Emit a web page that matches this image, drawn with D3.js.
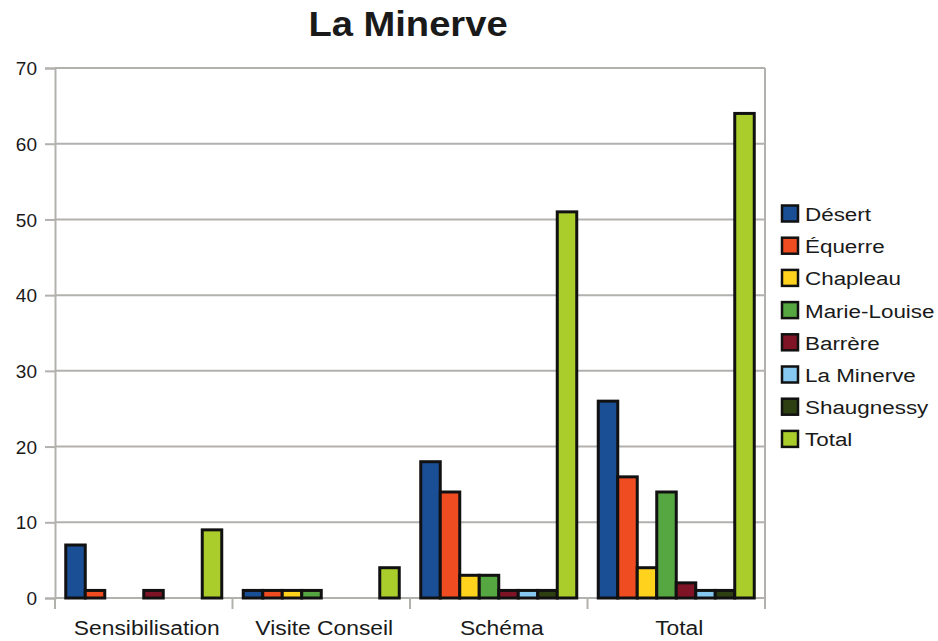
<!DOCTYPE html>
<html>
<head>
<meta charset="utf-8">
<script src="https://cdn.jsdelivr.net/npm/d3@7"></script>
<style>
  html, body { margin: 0; padding: 0; background: #ffffff; }
  svg { display: block; }
  text { font-family: "Liberation Sans", Arial, sans-serif; fill: #1a1a1a; }
</style>
</head>
<body>
<svg id="chart" width="938" height="641"></svg>
<script>
// Activity categories along the x axis
const categories = ["Sensibilisation", "Visite Conseil", "Schéma", "Total"];

// One series per sector; values in category order
const seriesNames = ["Désert", "Équerre", "Chapleau", "Marie-Louise", "Barrère", "La Minerve", "Shaugnessy", "Total"];
const desert      = [7, 1, 18, 26];
const equerre     = [1, 1, 14, 16];
const chapleau    = [0, 1, 3, 4];
const marieLouise = [0, 1, 3, 14];
const barrere     = [1, 0, 1, 2];
const laMinerve   = [0, 0, 1, 1];
const shaugnessy  = [0, 0, 1, 1];
const total       = [9, 4, 51, 64];

const seriesValues = [desert, equerre, chapleau, marieLouise, barrere, laMinerve, shaugnessy, total];
const seriesColors = ["#1b4f95", "#f04c22", "#ffd21e", "#56a641", "#7e1426", "#86c8ef", "#2e3f12", "#abcd2c"];

const yTicks = [0, 10, 20, 30, 40, 50, 60, 70];

const svg = d3.select("#chart");
const plot = { left: 55, right: 765, top: 68, bottom: 598 };

const x = d3.scaleBand().domain(categories).range([plot.left, plot.right]).padding(0);
const groupPad = 10.75;
const xs = d3.scaleBand().domain(seriesNames).range([groupPad, x.bandwidth() - groupPad]).padding(0);
const y = d3.scaleLinear().domain([0, 70]).range([plot.bottom, plot.top]);

const gridColor = "#b3b1ae";

// Horizontal grid lines
svg.append("g")
  .selectAll("line")
  .data(yTicks)
  .join("line")
  .attr("x1", plot.left).attr("x2", plot.right)
  .attr("y1", d => y(d)).attr("y2", d => y(d))
  .attr("stroke", gridColor).attr("stroke-width", 2);

// Right edge of the plot frame
svg.append("line")
  .attr("x1", plot.right).attr("x2", plot.right)
  .attr("y1", plot.top).attr("y2", plot.bottom)
  .attr("stroke", gridColor).attr("stroke-width", 2);

// Y axis with outward ticks
const yAxis = d3.axisLeft(y).tickValues(yTicks).tickSize(10).tickPadding(8).tickFormat(d3.format("d"));
const yG = svg.append("g").attr("transform", `translate(${plot.left},0)`).call(yAxis);
yG.select(".domain").attr("stroke", gridColor).attr("stroke-width", 2);
yG.selectAll(".tick line").attr("stroke", gridColor).attr("stroke-width", 2);
yG.selectAll(".tick text")
  .attr("font-size", 19)
  .attr("font-family", "Liberation Sans, Arial, sans-serif")
  .attr("fill", "#1a1a1a")
  .attr("dy", "0.35em");

// X axis: ticks at category boundaries, labels centred in each band
svg.append("line")
  .attr("x1", plot.left).attr("x2", plot.right)
  .attr("y1", plot.bottom).attr("y2", plot.bottom)
  .attr("stroke", gridColor).attr("stroke-width", 2);
const bounds = categories.map(c => x(c)).concat([plot.right]);
svg.append("g")
  .selectAll("line")
  .data(bounds)
  .join("line")
  .attr("x1", d => d).attr("x2", d => d)
  .attr("y1", plot.bottom).attr("y2", plot.bottom + 11)
  .attr("stroke", gridColor).attr("stroke-width", 2);

svg.append("g")
  .selectAll("text")
  .data(categories)
  .join("text")
  .attr("transform", d => `translate(${x(d) + x.bandwidth() / 2 + 3},635) scale(1.17,1)`)
  .attr("text-anchor", "middle")
  .attr("font-size", 19.5)
  .text(d => d);

// Bars
const groups = svg.append("g")
  .selectAll("g")
  .data(seriesNames.map((name, i) => ({ name, color: seriesColors[i], values: seriesValues[i] })))
  .join("g")
  .attr("fill", d => d.color);

groups.selectAll("rect")
  .data(s => categories.map((c, j) => ({ cat: c, name: s.name, value: s.values[j] })).filter(d => d.value > 0))
  .join("rect")
  .attr("x", d => x(d.cat) + xs(d.name))
  .attr("width", xs.bandwidth())
  .attr("y", d => y(d.value))
  .attr("height", d => y(0) - y(d.value))
  .attr("stroke", "#111")
  .attr("stroke-width", 3)
  .attr("stroke-linejoin", "miter");

// Title
svg.append("text")
  .attr("transform", "translate(408,36) scale(1.09,1)")
  .attr("text-anchor", "middle")
  .attr("font-size", 35)
  .attr("font-weight", "bold")
  .attr("fill", "#111")
  .text("La Minerve");

// Legend
const legend = svg.append("g");
const legendRow = i => 214 + i * 32.2;
legend.selectAll("rect")
  .data(seriesNames)
  .join("rect")
  .attr("x", 782)
  .attr("y", (d, i) => legendRow(i) - 8.5)
  .attr("width", 16).attr("height", 16)
  .attr("fill", (d, i) => seriesColors[i])
  .attr("stroke", "#111").attr("stroke-width", 2.5);
legend.selectAll("text")
  .data(seriesNames)
  .join("text")
  .attr("transform", (d, i) => `translate(805,${legendRow(i) + 7}) scale(1.18,1)`)
  .attr("font-size", 19)
  .text(d => d);
</script>
</body>
</html>
